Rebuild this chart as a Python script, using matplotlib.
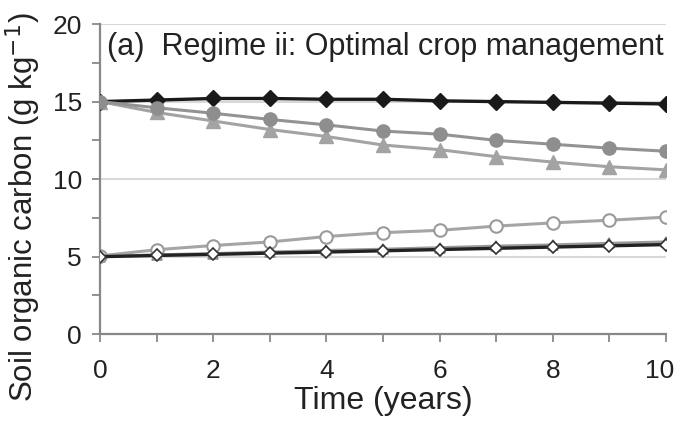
import matplotlib
matplotlib.use('Agg')
import matplotlib.pyplot as plt
from matplotlib.ticker import MultipleLocator
from matplotlib.transforms import ScaledTranslation

plt.rcParams['font.family'] = ['Liberation Sans', 'DejaVu Sans']

years = [0, 1, 2, 3, 4, 5, 6, 7, 8, 9, 10]

# high initial carbon (15 g/kg)
high_diamond = [15.0, 15.1, 15.2, 15.2, 15.15, 15.15, 15.05, 15.0, 14.95, 14.9, 14.85]
high_circle = [15.0, 14.6, 14.25, 13.85, 13.5, 13.1, 12.9, 12.5, 12.25, 12.0, 11.8]
high_triangle = [15.0, 14.3, 13.75, 13.2, 12.75, 12.2, 11.9, 11.45, 11.1, 10.8, 10.6]

# low initial carbon (5 g/kg)
low_circle = [5.05, 5.45, 5.72, 5.95, 6.3, 6.55, 6.7, 6.97, 7.18, 7.35, 7.55]
low_triangle = [5.0, 5.12, 5.2, 5.3, 5.4, 5.48, 5.58, 5.68, 5.76, 5.86, 5.95]
low_diamond = [5.0, 5.08, 5.15, 5.23, 5.3, 5.38, 5.46, 5.54, 5.62, 5.7, 5.78]

fig = plt.figure(figsize=(6.76, 4.22), dpi=100)
ax = fig.add_axes([0.148, 0.208, 0.837, 0.735])

for yv in [5, 10, 15, 20]:
    ax.axhline(yv, color='#d8d8d8', linewidth=1.5, zorder=0)

ax.plot(years, low_diamond, color='#222222', linewidth=2.4, marker='D', markersize=6.5,
        markerfacecolor='white', markeredgecolor='#333333', markeredgewidth=1.2, zorder=3)
ax.plot(years, low_triangle, color='#9a9a9a', linewidth=2.2, marker='^', markersize=7,
        markerfacecolor='white', markeredgecolor='#888888', markeredgewidth=1.2, zorder=2)
ax.plot(years, low_circle, color='#a5a5a5', linewidth=2.2, marker='o', markersize=9,
        markerfacecolor='white', markeredgecolor='#9a9a9a', markeredgewidth=1.5, zorder=2)

ax.plot(years, high_diamond, color='#1a1a1a', linewidth=2.4, marker='D', markersize=8,
        markerfacecolor='#1a1a1a', markeredgecolor='#1a1a1a', zorder=3)
ax.plot(years, high_triangle, color='#a3a3a3', linewidth=2.2, marker='^', markersize=9.5,
        markerfacecolor='#a3a3a3', markeredgecolor='#a3a3a3', zorder=2)
ax.plot(years, high_circle, color='#939393', linewidth=2.2, marker='o', markersize=9.5,
        markerfacecolor='#8e8e8e', markeredgecolor='#8e8e8e', zorder=4)

ax.set_xlim(0, 10)
ax.set_ylim(0, 20)
ax.set_xticks([0, 2, 4, 6, 8, 10])
ax.xaxis.set_minor_locator(MultipleLocator(1))
ax.yaxis.set_major_locator(MultipleLocator(5))
ax.yaxis.set_minor_locator(MultipleLocator(2.5))

for side in ['top', 'right']:
    ax.spines[side].set_visible(False)
for side in ['left', 'bottom']:
    ax.spines[side].set_color('#888888')
    ax.spines[side].set_linewidth(1.6)

ax.tick_params(which='both', direction='out', color='#888888', width=1.3, length=6)
ax.tick_params(which='major', labelsize=19, labelcolor='#222222')
ax.tick_params(axis='x', which='major', pad=12)
ax.tick_params(axis='y', which='major', pad=7)

# nudge the last x label so it stays inside the figure
lastlab = ax.xaxis.get_major_ticks()[-1].label1
lastlab.set_transform(lastlab.get_transform() + ScaledTranslation(-0.06, 0, fig.dpi_scale_trans))

ax.set_xlabel('Time (years)', fontsize=23, color='#222222', labelpad=2)
ax.set_ylabel('Soil organic carbon (g kg$^{-1}$)', fontsize=22.5, color='#222222')
ax.yaxis.set_label_coords(-0.1, 0.41)

ax.text(0.12, 18.0, '(a)  Regime ii: Optimal crop management', fontsize=22,
        color='#222222', va='baseline', ha='left')

fig.savefig('out.png', dpi=100)
